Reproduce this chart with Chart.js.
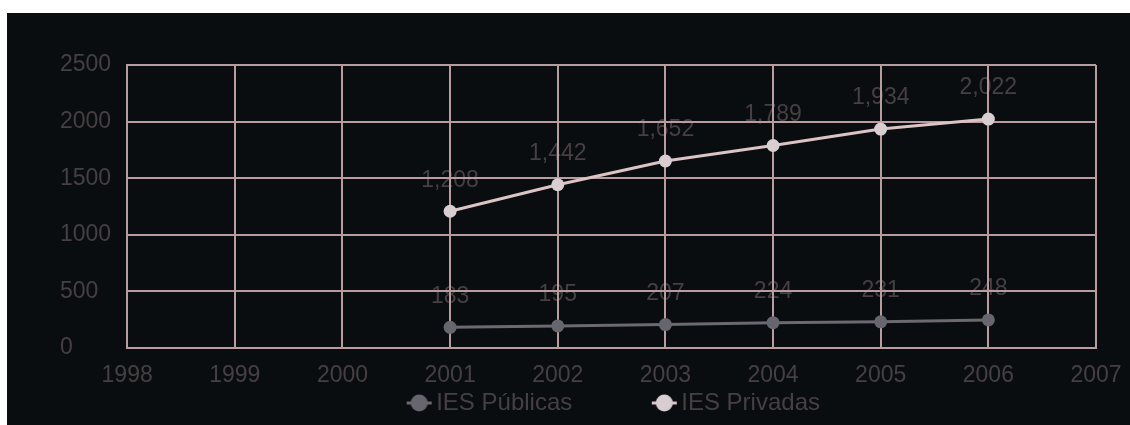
<!DOCTYPE html>
<html>
<head>
<meta charset="utf-8">
<title>IES Públicas y Privadas</title>
<script src="https://cdn.jsdelivr.net/npm/chart.js@4"></script>
<style>
  html, body { margin: 0; background: #fff; }
  #panel { position: absolute; left: 7px; top: 13px; width: 1123px; height: 412px; background: #0a0d10; }
</style>
</head>
<body>
<div id="panel"><canvas id="ies-chart" width="1123" height="412"></canvas></div>
<script>
// ---- Data ----
const years = [2001, 2002, 2003, 2004, 2005, 2006];
const publicas = [183, 195, 207, 224, 231, 248];
const privadas = [1208, 1442, 1652, 1789, 1934, 2022];
const seriesNames = ["IES Públicas", "IES Privadas"];
const xRange = [1998, 2007];
const yRange = [0, 2500];
const yStep = 500;

// ---- Colors ----
const C = {
  text:     "#463f43",
  grid:     "#b89c9e",
  pubLine:  "#6c6971",
  pubPoint: "#67666e",
  priLine:  "#dcc3c4",
  priPoint: "#d8cdd1",
};

const FONT = "'Liberation Sans', Arial, sans-serif";
const LEGEND_SHIFT = -37;
const MARKER_BOX = 95;

// legend marker: short line with a dot, drawn at the right end of a wide box
function legendMarker(fill, stroke) {
  const c = document.createElement("canvas");
  c.width = 112;
  c.height = 20;
  const g = c.getContext("2d");
  const cx = 56 + MARKER_BOX / 2 - 5, cy = 10;
  g.strokeStyle = stroke;
  g.lineWidth = 3;
  g.beginPath();
  g.moveTo(cx - 12.5, cy);
  g.lineTo(cx + 12.5, cy);
  g.stroke();
  g.fillStyle = fill;
  g.beginPath();
  g.arc(cx, cy, 8.5, 0, Math.PI * 2);
  g.fill();
  return c;
}

const markers = [
  legendMarker(C.pubPoint, C.pubLine),
  legendMarker(C.priPoint, C.priLine),
];

const toPoints = values => years.map((yr, i) => ({x: yr, y: values[i]}));

// value labels sit under the grid, so draw them before the scales
const valueLabels = {
  id: "valueLabels",
  beforeDraw(chart) {
    const ctx = chart.ctx;
    ctx.save();
    ctx.font = "23px " + FONT;
    ctx.fillStyle = C.text;
    ctx.textAlign = "center";
    ctx.textBaseline = "middle";
    chart.data.datasets.forEach((ds, i) => {
      chart.getDatasetMeta(i).data.forEach((pt, j) => {
        ctx.fillText(ds.data[j].y.toLocaleString("en-US"), pt.x, pt.y - 31);
      });
    });
    ctx.restore();
  }
};

const legendShift = {
  id: "legendShift",
  afterLayout(chart) {
    chart.legend.left += LEGEND_SHIFT;
    chart.legend.right += LEGEND_SHIFT;
  }
};

new Chart(document.getElementById("ies-chart"), {
  type: "line",
  data: {
    datasets: [
      {
        label: seriesNames[0],
        data: toPoints(publicas),
        borderColor: C.pubLine,
        backgroundColor: C.pubPoint,
        pointBackgroundColor: C.pubPoint,
        pointBorderWidth: 0,
        pointRadius: 6.5,
        borderWidth: 3,
      },
      {
        label: seriesNames[1],
        data: toPoints(privadas),
        borderColor: C.priLine,
        backgroundColor: C.priPoint,
        pointBackgroundColor: C.priPoint,
        pointBorderWidth: 0,
        pointRadius: 6.5,
        borderWidth: 3,
      },
    ]
  },
  options: {
    responsive: false,
    animation: false,
    layout: { padding: { left: 53, top: 52, right: 34, bottom: 0 } },
    plugins: {
      tooltip: { enabled: false },
      legend: {
        position: "bottom",
        fullSize: false,
        labels: {
          usePointStyle: true,
          pointStyleWidth: MARKER_BOX,
          padding: 2,
          color: C.text,
          font: { family: FONT, size: 24 },
          generateLabels(chart) {
            const items = Chart.defaults.plugins.legend.labels.generateLabels(chart);
            items.forEach(it => { it.pointStyle = markers[it.datasetIndex]; });
            return items;
          }
        }
      }
    },
    scales: {
      x: {
        type: "linear",
        min: xRange[0],
        max: xRange[1],
        grid: { color: C.grid, lineWidth: 2, drawTicks: false },
        border: { color: C.grid, width: 2 },
        ticks: {
          stepSize: 1,
          padding: 14,
          color: C.text,
          font: { family: FONT, size: 23 },
          callback: v => String(v),
        },
        // the outer year labels fit inside the layout padding
        afterFit(scale) {
          scale.height = 41;
          scale.paddingLeft = 0;
          scale.paddingRight = 0;
        }
      },
      y: {
        min: yRange[0],
        max: yRange[1],
        grid: { color: C.grid, lineWidth: 2, drawTicks: false },
        border: { color: C.grid, width: 2 },
        ticks: {
          stepSize: yStep,
          padding: 8,
          crossAlign: "far",
          color: C.text,
          font: { family: FONT, size: 23 },
          callback: v => String(v),
        }
      }
    }
  },
  plugins: [valueLabels, legendShift]
});
</script>
</body>
</html>
